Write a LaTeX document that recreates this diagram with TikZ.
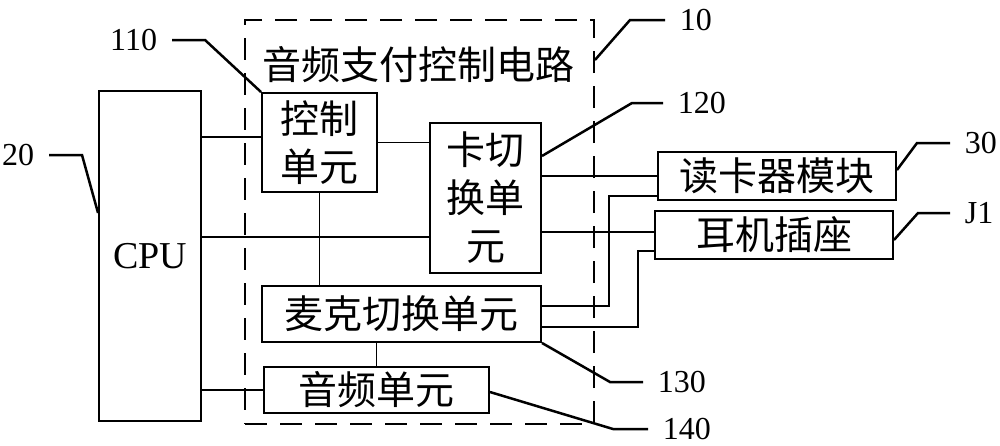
\documentclass[tikz,border=0pt]{standalone}
\usepackage{fontspec}
\setmainfont{Liberation Serif}
\newfontfamily\cjk{Noto Sans CJK SC}
\usetikzlibrary{positioning}

\begin{document}
\begin{tikzpicture}[x=1pt,y=-1pt,line width=1.9pt,
    box/.style={draw,align=center,inner sep=0pt,font=\cjk\fontsize{39}{48}\selectfont},
    num/.style={inner xsep=14pt,inner ysep=0pt,font=\fontsize{32}{32}\selectfont},
    lead/.style={line width=2.5pt},
    frame/.style={draw,dash pattern=on 22pt off 13pt}]
    \useasboundingbox (0,0) rectangle (1000,445);

    % boxes
    \node[frame,minimum width=349pt,minimum height=404pt] (circ) at (419.5,222) {};
    \node[font=\cjk\fontsize{39}{48}\selectfont] (title) at (418,65) {音频支付控制电路};
    \node[box,minimum width=102pt,minimum height=330pt,font=\fontsize{38}{40}\selectfont] (cpu) at (150,256) {CPU};
    \node[box,minimum width=115pt,minimum height=99pt] (ctrl) at (319.5,142.5) {控制\\单元};
    \node[box,minimum width=111pt,minimum height=150pt] (card) at (485.5,198) {卡切\\换单\\元};
    \node[box,minimum width=279pt,minimum height=56pt] (mic) at (401.5,314) {麦克切换单元};
    \node[box,minimum width=225pt,minimum height=46pt] (audio) at (376.5,390) {音频单元};
    \node[box,minimum width=238pt,minimum height=48pt] (reader) at (777,176) {读卡器模块};
    \node[box,minimum width=238pt,minimum height=48pt] (jack) at (774,235) {耳机插座};

    % wiring
    \draw (cpu.east |- 0,137) -- (ctrl.west |- 0,137)
      (ctrl.east) -- (ctrl.east -| card.west)
      (ctrl.south) -- (ctrl.south |- mic.north)
      (cpu.east |- 0,237) -- (card.west |- 0,237)
      (reader.west) -- (reader.west -| card.east)
      (card.east |- 0,232) -- (jack.west |- 0,232)
      (mic.south -| audio.north) -- (audio.north)
      (audio.west) -- (audio.west -| cpu.east);
    \draw ([yshift=8pt]mic.east) -| ([xshift=-48pt,yshift=5pt]reader.south west) -- ([yshift=5pt]reader.south west);
    \draw ([yshift=-13pt]mic.east) -| ([xshift=-16pt,yshift=9pt]jack.south west) -- ([yshift=9pt]jack.south west);

    % reference numbers
    \node[num,anchor=east] (n110) at (172,40) {110};
    \node[num,anchor=east] (n20) at (49,155) {20};
    \node[num,anchor=west] (n10) at (665,20) {10};
    \node[num,anchor=west] (n120) at (663,103) {120};
    \node[num,anchor=west] (n30) at (950,143) {30};
    \node[num,anchor=west] (nJ1) at (950,213) {J1};
    \node[num,anchor=west] (n130) at (643,382) {130};
    \node[num,anchor=west] (n140) at (648,429) {140};

    \draw[lead] (ctrl.north west) -- (205,40) -- (n110.east)
      (cpu.west |- 0,213) -- (82,155) -- (n20.east)
      (circ.east |- 0,60) -- (630,20) -- (n10.west)
      (card.east |- 0,156) -- (632,103) -- (n120.west)
      (reader.east |- 0,170) -- (917,143) -- (n30.west)
      (jack.east |- 0,240) -- (918,213) -- (nJ1.west)
      (mic.south east) -- (610,382) -- (n130.west)
      (audio.east |- 0,392) -- (613,429) -- (n140.west);
  \end{tikzpicture}
\end{document}
